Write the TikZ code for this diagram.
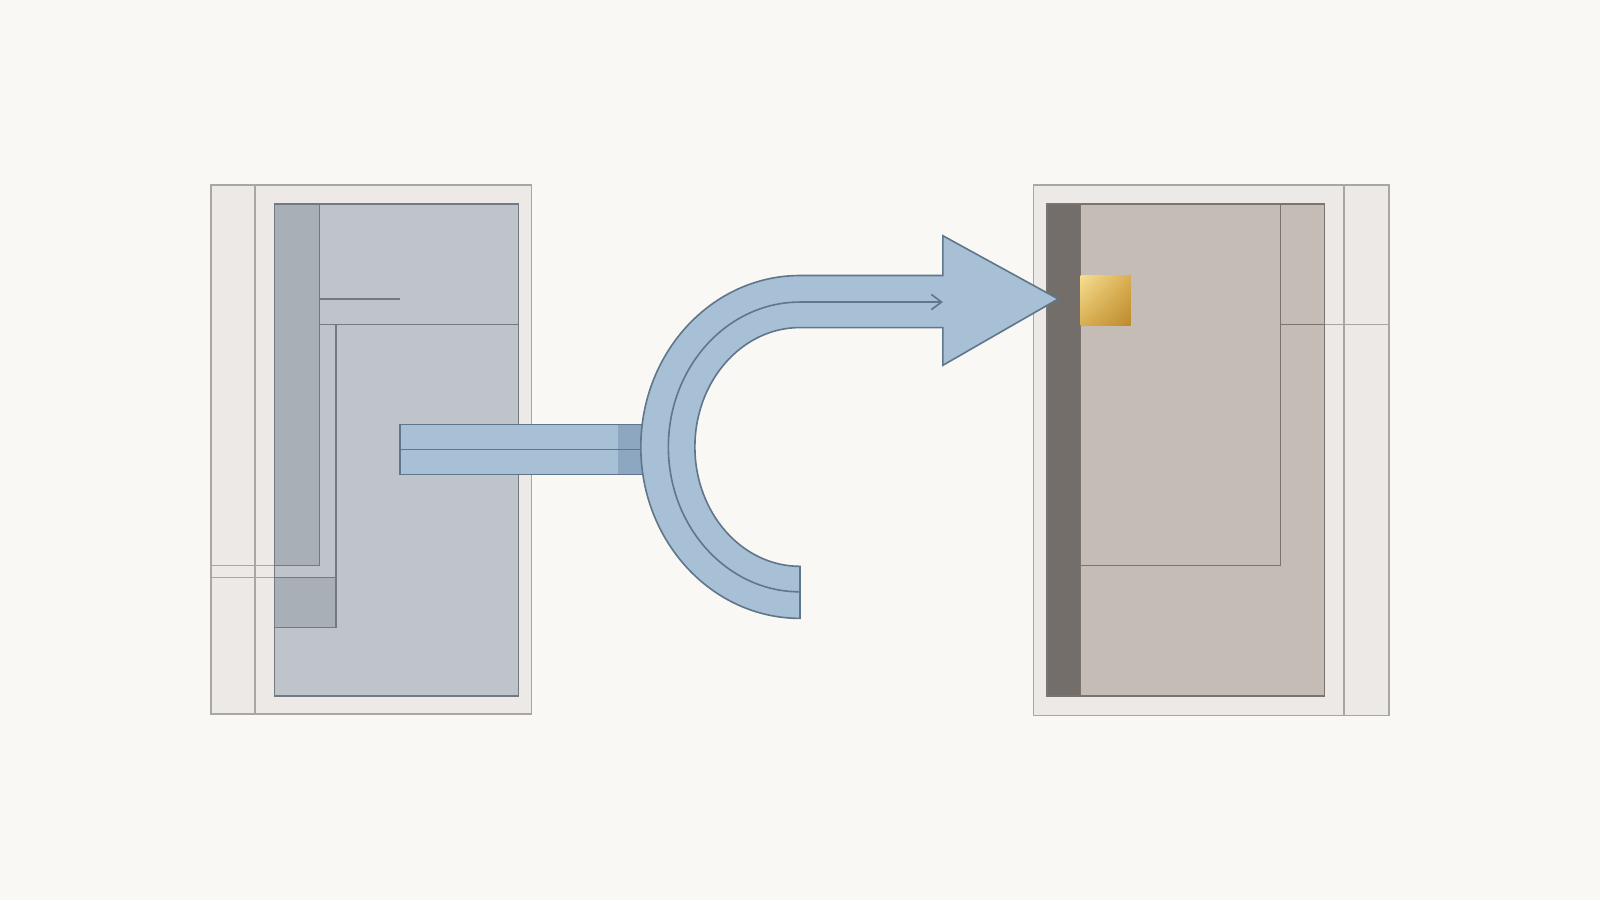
\documentclass[tikz,border=0pt]{standalone}
\usetikzlibrary{arrows.meta,shadings}
\definecolor{bgc}{HTML}{FAF8F5}
\definecolor{framefill}{HTML}{ECE9E6}
\definecolor{framedraw}{HTML}{A9A6A3}
\definecolor{lfill}{HTML}{BFC4CB}
\definecolor{ldraw}{HTML}{737980}
\definecolor{ldarkc}{HTML}{A9AFB6}
\definecolor{rfill}{HTML}{C5BCB5}
\definecolor{rdraw}{HTML}{7A736E}
\definecolor{rdarkc}{HTML}{736E69}
\definecolor{afill}{HTML}{A8C0D6}
\definecolor{adraw}{HTML}{60768A}
\definecolor{adark}{HTML}{8CA7BF}
\definecolor{goldA}{HTML}{F6DE90}
\definecolor{goldB}{HTML}{BC8A2C}
\definecolor{goldC}{HTML}{D9AE52}
\tikzset{
  frame/.style={fill=framefill, draw=framedraw, line width=0.45pt},
  frameline/.style={draw=framedraw, line width=0.45pt},
  linner/.style={fill=lfill, draw=ldraw, line width=0.45pt},
  ldarkbox/.style={fill=ldarkc, draw=ldraw, line width=0.45pt},
  lline/.style={draw=ldraw, line width=0.45pt},
  rinner/.style={fill=rfill, draw=rdraw, line width=0.45pt},
  rdarkbox/.style={fill=rdarkc, draw=rdraw, line width=0.45pt},
  rline/.style={draw=rdraw, line width=0.45pt},
  flow/.style={fill=afill, draw=adraw, line width=0.45pt, line join=miter},
  flowline/.style={draw=adraw, line width=0.45pt}
}
\begin{document}
\begin{tikzpicture}[x=0.1mm,y=-0.1mm]
\fill[bgc] (0,0) rectangle (1568,882);
\useasboundingbox (0,0) rectangle (1568,882);

% ---------- left panel ----------
\draw[frame] (207,181) rectangle (521,700);
\draw[frameline] (250,181) -- (250,700);
\draw[frameline] (207,554) -- (269,554);
\draw[frameline] (207,566) -- (269,566);
\draw[linner] (269,200) rectangle (508,682);
\draw[ldarkbox] (269,200) rectangle (313,554);
\draw[lline] (313,293) -- (392,293);
\draw[lline] (313,318) -- (508,318);
\draw[lline] (329,318) -- (329,566);
\draw[ldarkbox] (269,566) rectangle (329,615);

% ---------- right panel ----------
\draw[frame] (1013,181) rectangle (1361,701);
\draw[frameline] (1317,181) -- (1317,701);
\draw[frameline] (1298,318) -- (1361,318);
\draw[rinner] (1026,200) rectangle (1298,682);
\draw[rline] (1255,200) -- (1255,554) -- (1059,554);
\draw[rline] (1255,318) -- (1298,318);
\draw[rdarkbox] (1026,200) rectangle (1059,682);
\shade[upper left=goldA, lower right=goldB, upper right=goldC, lower left=goldC] (1059,270) rectangle (1108,319);

% ---------- flow arrow ----------
\fill[afill] (392,416) rectangle (632,465);
\fill[adark] (606,416) rectangle (632,465);
\draw[flowline] (632,416) -- (392,416) -- (392,465) -- (632,465);
\draw[flowline] (392,440.5) -- (632,440.5);
\draw[flow] (784,270) -- (924,270) -- (924,231) -- (1037,293) -- (924,358) -- (924,321) -- (784,321)
  arc (270:90:103 and 117) -- (784,606) arc (90:270:156 and 168) -- cycle;
\draw[flowline, -{Straight Barb[length=1mm,width=1.5mm]}] (784,580) arc (90:270:129 and 142) -- (924,296);
\end{tikzpicture}
\end{document}
